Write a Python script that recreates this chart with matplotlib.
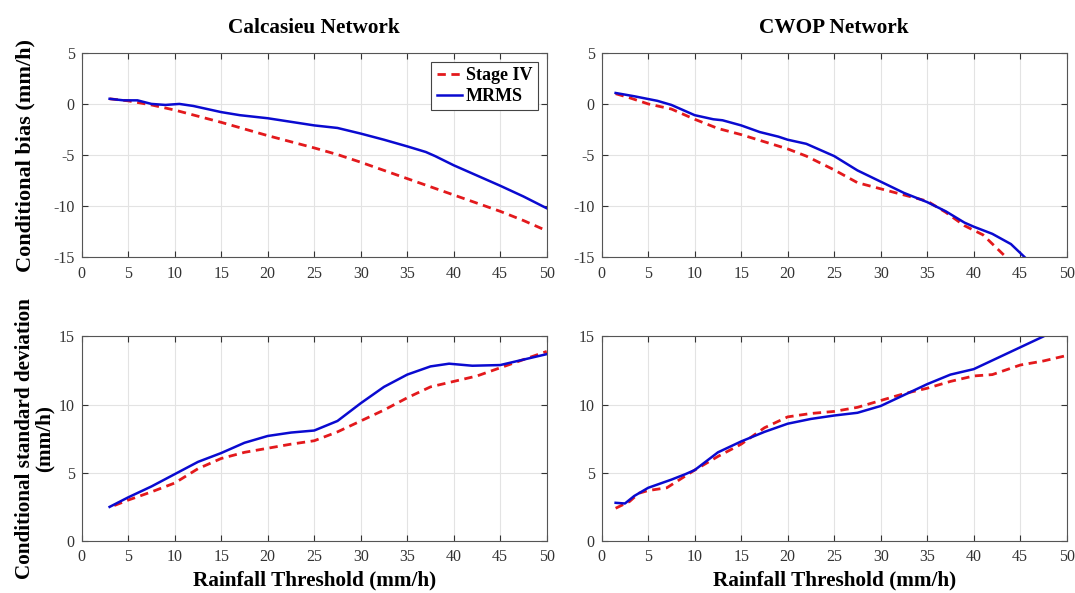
import matplotlib
matplotlib.use("Agg")
import matplotlib.pyplot as plt

plt.rcParams['font.family'] = ['Liberation Serif', 'DejaVu Serif']
plt.rcParams['axes.unicode_minus'] = False

# Calcasieu Network - conditional bias
cal_bias_s4_x = [3, 5, 7.5, 10, 12.5, 15, 17.5, 20, 22.5, 25, 27.5, 30, 32.5, 35, 37.5, 40, 42.5, 45, 47.5, 50]
cal_bias_s4_y = [0.5, 0.3, -0.1, -0.6, -1.2, -1.8, -2.45, -3.1, -3.7, -4.3, -4.95, -5.7, -6.5, -7.3, -8.1, -8.9, -9.7, -10.5, -11.4, -12.4]
cal_bias_mr_x = [3, 4.5, 6, 7.5, 9, 10.5, 12, 13.5, 15, 17, 20, 22.5, 25, 27.5, 30, 32.5, 35, 37, 38, 40, 42.5, 45, 47.5, 50]
cal_bias_mr_y = [0.5, 0.35, 0.35, 0.0, -0.1, 0.0, -0.2, -0.5, -0.8, -1.1, -1.4, -1.75, -2.1, -2.35, -2.9, -3.5, -4.15, -4.7, -5.1, -6.0, -7.0, -8.0, -9.05, -10.2]

# CWOP Network - conditional bias
cw_bias_s4_x = [1.5, 3, 5, 7.5, 10, 12.5, 15, 17.5, 20, 22, 25, 27.5, 30, 32.5, 35, 37, 39, 41, 43.5, 44.5]
cw_bias_s4_y = [1.0, 0.6, 0.0, -0.5, -1.5, -2.4, -3.0, -3.7, -4.4, -5.1, -6.45, -7.7, -8.3, -8.9, -9.5, -10.6, -11.9, -12.8, -15.0, -16.0]
cw_bias_mr_x = [1.5, 3.5, 6, 7.5, 10, 12, 13, 15, 17, 19, 20, 22, 25, 27.5, 30, 32.5, 35, 37, 39, 40, 42, 44, 45.5, 46.5]
cw_bias_mr_y = [1.07, 0.75, 0.3, -0.1, -1.1, -1.5, -1.6, -2.1, -2.75, -3.2, -3.5, -3.9, -5.1, -6.5, -7.6, -8.7, -9.6, -10.5, -11.6, -12.0, -12.7, -13.7, -15.0, -15.8]

# Calcasieu Network - conditional std
cal_std_s4_x = [3.5, 5, 7.5, 10, 12.5, 15, 17.5, 20, 22.5, 25, 27.5, 30, 32.5, 35, 37.5, 40, 42.5, 45, 47.5, 50]
cal_std_s4_y = [2.6, 3.0, 3.6, 4.25, 5.3, 6.05, 6.5, 6.8, 7.1, 7.35, 8.0, 8.8, 9.6, 10.5, 11.3, 11.7, 12.1, 12.7, 13.3, 13.9]
cal_std_mr_x = [3, 5, 7.5, 10, 12.5, 15, 17.5, 20, 22.5, 25, 27.5, 30, 32.5, 35, 37.5, 39.5, 42, 45, 47.5, 50]
cal_std_mr_y = [2.5, 3.2, 4.0, 4.9, 5.8, 6.45, 7.2, 7.7, 7.95, 8.1, 8.8, 10.1, 11.3, 12.2, 12.8, 13.0, 12.85, 12.9, 13.3, 13.7]

# CWOP Network - conditional std
cw_std_s4_x = [1.5, 3, 4, 5, 7, 10, 12.5, 15, 17.5, 20, 22.5, 25, 27.5, 30, 32.5, 35, 37.5, 40, 42, 45, 47.5, 50]
cw_std_s4_y = [2.4, 2.9, 3.5, 3.7, 3.9, 5.2, 6.2, 7.1, 8.3, 9.1, 9.35, 9.5, 9.8, 10.3, 10.8, 11.2, 11.7, 12.1, 12.2, 12.9, 13.2, 13.6]
cw_std_mr_x = [1.5, 2.5, 3.5, 5, 7.5, 9, 10, 12.5, 15, 17.5, 20, 22.5, 25, 27.5, 30, 32.5, 35, 37.5, 40, 42.5, 45, 47.5, 48.5]
cw_std_mr_y = [2.8, 2.75, 3.3, 3.9, 4.5, 4.9, 5.2, 6.5, 7.3, 8.0, 8.6, 8.95, 9.2, 9.4, 9.9, 10.7, 11.5, 12.2, 12.6, 13.4, 14.2, 15.0, 15.4]

x_ticks = [0, 5, 10, 15, 20, 25, 30, 35, 40, 45, 50]
bias_ticks = [-15, -10, -5, 0, 5]
std_ticks = [0, 5, 10, 15]

RED = '#e3191c'
BLUE = '#0a0ad0'


def style_axes(ax, yticks):
    ax.set_xlim(0, 50)
    ax.set_ylim(yticks[0], yticks[-1])
    ax.set_xticks(x_ticks)
    ax.set_yticks(yticks)
    ax.grid(True, color='#e3e3e3', linewidth=0.8)
    ax.set_axisbelow(True)
    ax.tick_params(direction='in', top=True, right=True, labelsize=11.5,
                   length=4, color='#333333', labelcolor='#333333')
    ax.tick_params(axis='x', pad=6)
    ax.tick_params(axis='y', pad=5)
    for sp in ax.spines.values():
        sp.set_color('#555555')
        sp.set_linewidth(0.8)


def draw(ax, s4x, s4y, mrx, mry, yticks):
    ax.plot(s4x, s4y, color=RED, linestyle=(0, (3, 2.0)), linewidth=2, label='Stage IV')
    ax.plot(mrx, mry, color=BLUE, linewidth=1.8, label='MRMS')
    style_axes(ax, yticks)


fig = plt.figure(figsize=(10.75, 5.93), dpi=100)
W = 0.4326
H = 0.345
ax1 = fig.add_axes([0.076, 0.566, W, H])
ax2 = fig.add_axes([0.5597, 0.566, W, H])
ax3 = fig.add_axes([0.076, 0.0877, W, H])
ax4 = fig.add_axes([0.5597, 0.0877, W, H])

draw(ax1, cal_bias_s4_x, cal_bias_s4_y, cal_bias_mr_x, cal_bias_mr_y, bias_ticks)
draw(ax2, cw_bias_s4_x, cw_bias_s4_y, cw_bias_mr_x, cw_bias_mr_y, bias_ticks)
draw(ax3, cal_std_s4_x, cal_std_s4_y, cal_std_mr_x, cal_std_mr_y, std_ticks)
draw(ax4, cw_std_s4_x, cw_std_s4_y, cw_std_mr_x, cw_std_mr_y, std_ticks)

ax1.set_title('Calcasieu Network', fontsize=15.3, fontweight='bold', pad=14)
ax2.set_title('CWOP Network', fontsize=15.3, fontweight='bold', pad=14)

ax1.set_ylabel('Conditional bias (mm/h)', fontsize=16, fontweight='bold')
ax1.yaxis.set_label_coords(-0.100, 0.5)
ax3.set_ylabel('Conditional standard deviation\n(mm/h)', fontsize=15.2, fontweight='bold',
               linespacing=1.0)
ax3.yaxis.set_label_coords(-0.058, 0.5)
for ax in (ax3, ax4):
    ax.set_xlabel('Rainfall Threshold (mm/h)', fontsize=15.3, fontweight='bold')
    ax.xaxis.set_label_coords(0.5, -0.145)

leg = ax1.legend(loc='upper right', prop={'weight': 'bold', 'size': 13},
                 fancybox=False, edgecolor='#444444', framealpha=1,
                 borderaxespad=0.5, handlelength=1.4, handletextpad=0.2,
                 borderpad=0.3, labelspacing=0.2)
leg.get_frame().set_linewidth(0.8)

fig.savefig('out.png', dpi=100)
